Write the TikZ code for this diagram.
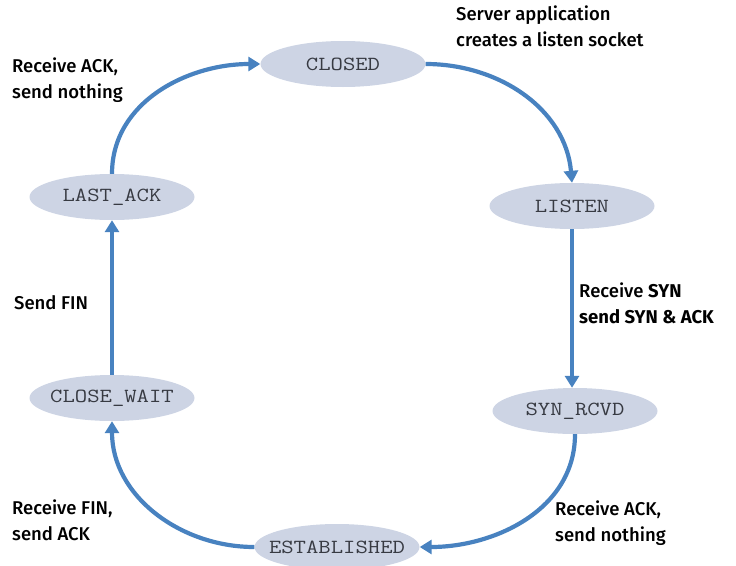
\documentclass[tikz,border=0pt]{standalone}
\usepackage{fontspec}
\setmainfont{Fira Sans}[UprightFont={* Medium},BoldFont={* Bold}]
\newfontfamily\stfont{Latin Modern Mono}[FakeStretch=1.2]
\usetikzlibrary{shapes.geometric,arrows.meta}
\definecolor{stfill}{RGB}{205,212,228}
\definecolor{arr}{RGB}{72,130,192}
\definecolor{sttext}{RGB}{55,58,66}
\tikzset{
  state/.style={ellipse,fill=stfill,minimum width=165pt,minimum height=46pt,inner sep=0pt,
    font=\fontsize{20}{20}\selectfont\stfont,text=sttext,
    execute at begin node={\hbox to 0pt\bgroup\hss},
    execute at end node={\hss\egroup}},
  trans/.style={draw=arr,line width=4.2pt,-{Triangle[length=12pt,width=14pt]}},
  lab/.style={font=\fontsize{18.5}{26}\selectfont,align=left,anchor=base west,inner sep=0pt,text=black}
}
\begin{document}
\begin{tikzpicture}[x=1pt,y=-1pt]
\useasboundingbox (0,0) rectangle (736,565);
\node[state] (closed) at (343,64) {CLOSED};
\node[state] (listen) at (572,206) {LISTEN};
\node[state] (syn) at (575,411) {SYN\_RCVD};
\node[state] (est) at (337,547) {ESTABLISHED};
\node[state] (cw) at (112,398) {CLOSE\_WAIT};
\node[state] (la) at (112,197) {LAST\_ACK};

\draw[trans] (closed.east) to[out=0,in=95] (listen.north);
\draw[trans] (listen.south) -- (listen.south |- syn.north);
\draw[trans] (syn.south) to[out=-90,in=0] (est.east);
\draw[trans] (est.west) to[out=180,in=-90] (cw.south);
\draw[trans] (cw.north) -- (la.south);
\draw[trans] (la.north) to[out=90,in=180] (closed.west);

\node[lab] (l1) at (12,98) {Receive ACK,\\send nothing};
\node[lab] (l2) at (456,46) {Server application\\creates a listen socket};
\node[lab] (l3) at (579,323) {Receive \textbf{SYN}\\\textbf{send SYN \& ACK}};
\node[lab] (l4) at (14,309) {Send FIN};
\node[lab] (l5) at (12,540) {Receive FIN,\\send ACK};
\node[lab] (l6) at (555,541) {Receive ACK,\\send nothing};
\end{tikzpicture}
\end{document}
